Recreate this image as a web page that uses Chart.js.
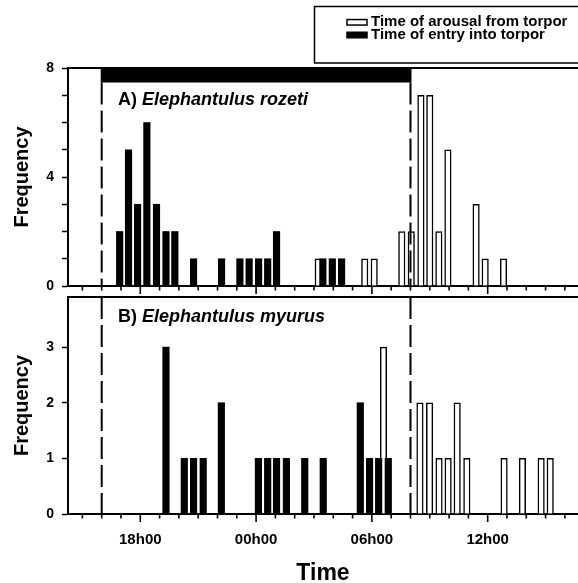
<!DOCTYPE html>
<html><head><meta charset="utf-8">
<script src="https://cdn.jsdelivr.net/npm/chart.js@4.4.1/dist/chart.umd.min.js"></script>
<style>
html,body{margin:0;padding:0;background:#fff;}
#wrap{position:relative;width:578px;height:583px;overflow:hidden;background:#fff;}
canvas{position:absolute;left:0;top:0;}
</style></head><body>
<div id="wrap"><canvas id="cA" width="578" height="583"></canvas><canvas id="cB" width="578" height="583"></canvas></div>
<script>
// Times in hours from midnight of day 1 (24 = 00h00, 30 = 06h00 of next day)
const entryTimesA    = [16.93,17.39,17.86,18.34,18.84,19.33,19.79,20.76,22.21,23.16,23.64,24.13,24.60,25.06,27.46,27.95,28.43];
const entryCountsA   = [2,5,3,6,3,2,2,1,1,1,1,1,1,2,1,1,1];
const arousalTimesA  = [27.22,29.63,30.12,31.55,32.04,32.54,33.00,33.47,33.94,35.40,35.87,36.82];
const arousalCountsA = [1,1,1,2,2,7,7,2,5,3,1,1];
const entryTimesB    = [19.33,20.28,20.76,21.26,22.20,24.12,24.60,25.06,25.57,26.52,27.48,29.40,29.88,30.35,30.85];
const entryCountsB   = [3,1,1,1,2,1,1,1,1,1,1,2,1,1,1];
const arousalTimesB  = [30.60,32.49,32.99,33.48,33.95,34.42,34.92,36.85,37.80,38.77,39.24];
const arousalCountsB = [3,2,2,1,1,2,1,1,1,1,1];
const hourTicks   = [15,16,17,18,19,20,21,22,23,24,25,26,27,28,29,30,31,32,33,34,35,36,37,38,39,40];
const majorHours  = [18,24,30,36];
const majorLabels = ['18h00','00h00','06h00','12h00'];
const darkPhase   = [16,32];
const yTicksA  = [0,1,2,3,4,5,6,7,8];
const yLabelsA = [0,4,8];
const yTicksB  = [0,1,2,3];
const seriesLabels = ['Time of arousal from torpor','Time of entry into torpor'];
const panelTitles  = [['A) ','Elephantulus rozeti'],['B) ','Elephantulus myurus']];
const xMin = 14.254, xMax = 40.68;

const FONT = "'Liberation Sans', Arial, Helvetica, sans-serif";
Chart.defaults.color = '#000';
Chart.defaults.font.family = FONT;

const decor = {
  id: 'decor',
  afterDraw(chart, args, opts) {
    const ctx = chart.ctx, a = chart.chartArea, x = chart.scales.x;
    ctx.save();
    ctx.strokeStyle = '#000'; ctx.fillStyle = '#000';
    ctx.lineWidth = 2;
    ctx.beginPath(); ctx.moveTo(a.left - 1, a.top); ctx.lineTo(a.right, a.top); ctx.stroke();
    ctx.lineWidth = 1.6;
    hourTicks.forEach(h => {
      const px = x.getPixelForValue(h);
      const len = majorHours.includes(h) ? 8 : 4.5;
      ctx.beginPath(); ctx.moveTo(px, a.bottom); ctx.lineTo(px, a.bottom + len); ctx.stroke();
    });
    const x0 = x.getPixelForValue(darkPhase[0]), x1 = x.getPixelForValue(darkPhase[1]);
    let dashTop = a.top;
    if (opts.bar) { ctx.fillRect(x0 - 1, a.top, x1 - x0 + 2, 14.5); dashTop = a.top + 14.5; }
    ctx.setLineDash([22, 6]); ctx.lineWidth = 2;
    [x0, x1].forEach(px => { ctx.beginPath(); ctx.moveTo(px, dashTop); ctx.lineTo(px, a.bottom); ctx.stroke(); });
    ctx.setLineDash([]);
    const t = panelTitles[opts.panel];
    ctx.textBaseline = 'alphabetic';
    ctx.font = 'bold 18px ' + FONT;
    const tx = a.left + 50, ty = a.top + opts.titleDy;
    ctx.fillText(t[0], tx, ty);
    const w = ctx.measureText(t[0]).width;
    ctx.font = 'italic bold 18px ' + FONT;
    ctx.fillText(t[1], tx + w, ty);
    if (opts.legend) {
      ctx.lineWidth = 1.5;
      ctx.strokeRect(314.5, 6.5, 300, 56.5);
      const ds = chart.data.datasets;
      [ds[1], ds[0]].forEach((d, i) => {
        const cy = [22.3, 35][i];
        ctx.fillStyle = d.backgroundColor; ctx.fillRect(347, cy - 2.75, 20, 5.5);
        ctx.strokeStyle = '#000'; ctx.lineWidth = 1.5; ctx.strokeRect(347, cy - 2.75, 20, 5.5);
        ctx.fillStyle = '#000'; ctx.font = 'bold 15px ' + FONT; ctx.textBaseline = 'middle';
        ctx.fillText(d.label, 371, cy - 0.5);
      });
    }
    ctx.restore();
  }
};

function yAxis(max, ticks, labelFn) {
  return {
    min: 0, max: max,
    afterBuildTicks: s => { s.ticks = ticks.map(v => ({value: v})); },
    afterFit: s => { s.width = 68; },
    ticks: { callback: labelFn, font: {size: 14, weight: 'bold', family: FONT}, color: '#000', padding: 8 },
    grid: { drawOnChartArea: false, drawTicks: true, tickLength: 6, tickColor: '#000', tickWidth: 1.5 },
    border: { display: true, color: '#000', width: 2 },
    title: { display: true, text: 'Frequency', font: {size: 20, weight: 'bold', family: FONT}, color: '#000', padding: {top: 10, bottom: 0} }
  };
}

function xAxis(bottom) {
  const cfg = {
    type: 'linear', min: xMin, max: xMax, offset: false,
    afterBuildTicks: s => { s.ticks = hourTicks.map(v => ({value: v})); },
    afterFit: s => { s.height = bottom ? 69 : 10; s.paddingLeft = 0; s.paddingRight = 0; },
    grid: { drawOnChartArea: false, drawTicks: false },
    border: { display: true, color: '#000', width: 2 },
    ticks: { display: false }
  };
  if (bottom) {
    cfg.ticks = { display: true, autoSkip: false, maxRotation: 0, minRotation: 0, padding: 17,
      font: {size: 15, weight: 'bold', family: FONT}, color: '#000',
      callback: v => { const i = majorHours.indexOf(v); return i >= 0 ? majorLabels[i] : ''; } };
    cfg.title = { display: true, text: 'Time', font: {size: 23, weight: 'bold', family: FONT}, color: '#000', padding: {top: 0, bottom: -4} };
  }
  return cfg;
}

function pts(ts, cs) { return ts.map((t, i) => ({x: t, y: cs[i]})); }

function makeChart(id, entryT, entryC, arT, arC, yCfg, xCfg, pad, decorOpts) {
  return new Chart(document.getElementById(id), {
    type: 'bar',
    data: { datasets: [
      { label: seriesLabels[1], data: pts(entryT, entryC), backgroundColor: '#000', borderColor: '#000', borderWidth: 0, barThickness: 6.5, grouped: false },
      { label: seriesLabels[0], data: pts(arT, arC), backgroundColor: '#fff', borderColor: '#000', borderWidth: 1.5, barThickness: 6.5, grouped: false }
    ]},
    options: {
      responsive: false, animation: false, events: [],
      layout: { padding: pad },
      scales: { x: xCfg, y: yCfg },
      plugins: { legend: {display: false}, tooltip: {enabled: false}, decor: decorOpts }
    },
    plugins: [decor]
  });
}

makeChart('cA', entryTimesA, entryCountsA, arousalTimesA, arousalCountsA,
  yAxis(8, yTicksA, v => yLabelsA.includes(v) ? String(v) : ''), xAxis(false),
  {top: 68, bottom: 287, left: 0, right: 0}, {panel: 0, bar: true, legend: true, titleDy: 37});
makeChart('cB', entryTimesB, entryCountsB, arousalTimesB, arousalCountsB,
  yAxis(3.9, yTicksB, v => String(v)), xAxis(true),
  {top: 297, bottom: 0, left: 0, right: 0}, {panel: 1, bar: false, legend: false, titleDy: 25});
</script>
</body></html>
